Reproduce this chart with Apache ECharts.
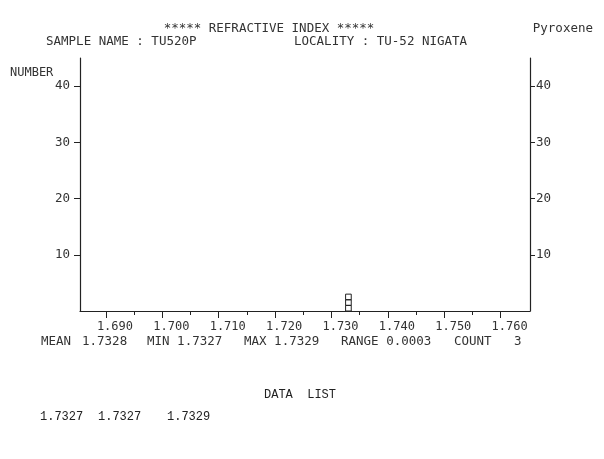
<!DOCTYPE html>
<html>
<head>
<meta charset="utf-8">
<script src="https://cdn.jsdelivr.net/npm/echarts@6/dist/echarts.min.js"></script>
<style>
html,body{margin:0;padding:0;background:#fff;}
#c{width:604px;height:459px;}
</style>
</head>
<body>
<div id="c"></div>
<script>
// ---- data ----
const dataList = [1.7327, 1.7327, 1.7329];
const binWidth = 0.001;
const xTicks = [1.690, 1.700, 1.710, 1.720, 1.730, 1.740, 1.750, 1.760];
const xMinorTicks = [1.695, 1.705, 1.715, 1.725, 1.735, 1.745, 1.755];
const yTicks = [10, 20, 30, 40];
const titleText = '***** REFRACTIVE INDEX *****';
const mineralText = 'Pyroxene';
const sampleText = 'SAMPLE NAME : TU520P';
const localityText = 'LOCALITY : TU-52 NIGATA';
const yName = 'NUMBER';
const statLabels = ['MEAN', '1.7328', 'MIN 1.7327', 'MAX 1.7329', 'RANGE 0.0003', 'COUNT', '3'];
const dataListTitle = 'DATA  LIST';

// ---- bins built from data ----
const binMap = {};
dataList.forEach(v => {
  const c = Math.round(v / binWidth) * binWidth;
  const key = c.toFixed(4);
  binMap[key] = (binMap[key] || 0) + 1;
});
const bins = Object.keys(binMap).map(k => [parseFloat(k) - binWidth / 2, parseFloat(k) + binWidth / 2, binMap[k]]);

const INK = '#333';
const PLOT = '"DejaVu Sans Mono", monospace';
const MONO = '"Liberation Mono", "Courier New", monospace';

const X_MIN = 1.6854, X_MAX = 1.7652;

const chart = echarts.init(document.getElementById('c'));

function txt(x, y, s, opts) {
  opts = opts || {};
  return {
    type: 'text', x: x, y: y, silent: true,
    style: {
      text: s, fill: opts.color || INK,
      font: (opts.weight || 'normal') + ' ' + (opts.size || 12.5) + 'px ' + (opts.family || PLOT),
      textAlign: opts.align || 'left', textVerticalAlign: 'middle'
    }
  };
}

const statX = [41, 82, 147, 244, 341, 454, 514];
const dataX = [40, 98, 167];

const graphics = [
  txt(269, 29, titleText, {align: 'center'}),
  txt(593, 29, mineralText, {align: 'right'}),
  txt(46, 42, sampleText),
  txt(294, 42, localityText),
  txt(10, 73, yName, {size: 12}),
  txt(300, 395, dataListTitle, {family: MONO, size: 12, align: 'center', color: '#222'})
];
statLabels.forEach((s, i) => graphics.push(txt(statX[i], 342, s)));
dataList.forEach((v, i) => graphics.push(txt(dataX[i], 417, v.toFixed(4), {family: MONO, size: 12, color: '#222'})));

const axisLineStyle = {color: '#222', width: 1.2};

chart.setOption({
  animation: false,
  backgroundColor: '#fff',
  grid: {left: 80, right: 74, top: 58, bottom: 148, containLabel: false},
  xAxis: [
    {
      type: 'value', min: X_MIN, max: X_MAX, position: 'bottom',
      axisLine: {show: true, onZero: false, lineStyle: axisLineStyle},
      axisTick: {show: true, customValues: xTicks, length: 7, lineStyle: {color: '#222'}},
      axisLabel: {show: true, customValues: xTicks, formatter: v => v.toFixed(3), color: INK,
        fontFamily: PLOT, fontSize: 12, margin: 10, padding: [0, 0, 0, 18]},
      splitLine: {show: false}
    },
    {
      type: 'value', min: X_MIN, max: X_MAX, position: 'bottom', offset: 0,
      axisLine: {show: false},
      axisTick: {show: true, customValues: xMinorTicks, length: 4, lineStyle: {color: '#222'}},
      axisLabel: {show: false},
      splitLine: {show: false}
    }
  ],
  yAxis: [
    {
      type: 'value', min: 0, max: 45, position: 'left',
      axisLine: {show: true, onZero: false, lineStyle: axisLineStyle},
      axisTick: {show: true, customValues: yTicks, length: 6, lineStyle: {color: '#222'}},
      axisLabel: {show: true, customValues: yTicks, color: INK, fontFamily: PLOT, fontSize: 12.5, margin: 10},
      splitLine: {show: false}
    },
    {
      type: 'value', min: 0, max: 45, position: 'right',
      axisLine: {show: true, onZero: false, lineStyle: axisLineStyle},
      axisTick: {show: true, customValues: yTicks, length: 5, lineStyle: {color: '#222'}},
      axisLabel: {show: true, customValues: yTicks, color: INK, fontFamily: PLOT, fontSize: 12.5, margin: 6},
      splitLine: {show: false}
    }
  ],
  series: [{
    type: 'custom',
    xAxisIndex: 0, yAxisIndex: 0,
    data: bins,
    renderItem: function (params, api) {
      const x0 = api.value(0), x1 = api.value(1), n = api.value(2);
      const children = [];
      for (let k = 0; k < n; k++) {
        const p0 = api.coord([x0, k + 1]);
        const p1 = api.coord([x1, k]);
        children.push({
          type: 'rect',
          shape: {x: p0[0], y: p0[1], width: p1[0] - p0[0], height: p1[1] - p0[1]},
          style: {fill: 'none', stroke: '#222', lineWidth: 1}
        });
      }
      return {type: 'group', children: children};
    }
  }],
  graphic: graphics
});
</script>
</body>
</html>
